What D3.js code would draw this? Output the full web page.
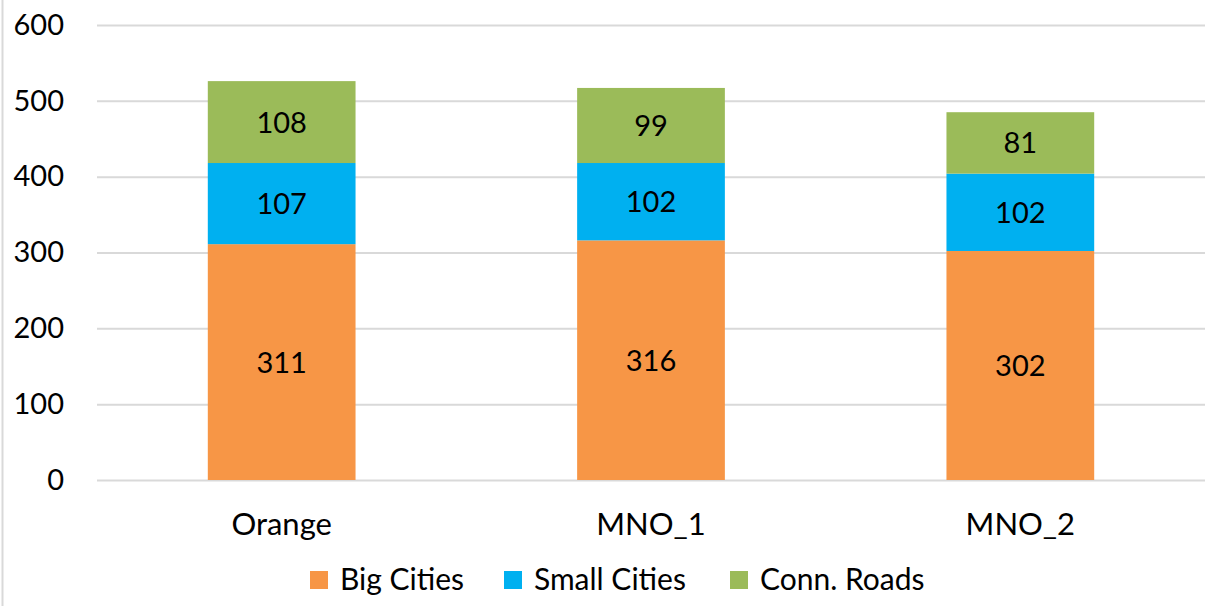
<!DOCTYPE html>
<html>
<head>
<meta charset="utf-8">
<script src="https://cdn.jsdelivr.net/npm/d3@7"></script>
<style>
  body { margin: 0; background: #fff; }
  svg { display: block; font-family: Lato, "Open Sans", sans-serif; }
</style>
</head>
<body>
<svg width="1216" height="606"></svg>
<script>
// chart data
var categories = ["Orange", "MNO_1", "MNO_2"];
var seriesNames = ["Big Cities", "Small Cities", "Conn. Roads"];
var bigCities = [311, 316, 302];
var smallCities = [107, 102, 102];
var connRoads = [108, 99, 81];
var yTicks = [0, 100, 200, 300, 400, 500, 600];

var colors = ["#F79646", "#00B0F0", "#9BBB59"];

// build table for the stack layout
var table = categories.map(function (c, i) {
  return { cat: c, "Big Cities": bigCities[i], "Small Cities": smallCities[i], "Conn. Roads": connRoads[i] };
});

var svg = d3.select("svg");

// thin frame line on the left
svg.append("line")
    .attr("x1", 2.5).attr("x2", 2.5)
    .attr("y1", 0).attr("y2", 606)
    .attr("stroke", "#d9d9d9")
    .attr("stroke-width", 2);

var x = d3.scaleBand().domain(categories).range([97, 1205])
    .paddingInner(0.6).paddingOuter(0.3);
var y = d3.scaleLinear().domain([0, 600]).range([480, 25]);

// gridlines
svg.append("g")
  .selectAll("line")
  .data(yTicks)
  .join("line")
    .attr("x1", 97).attr("x2", 1205)
    .attr("y1", function (d) { return y(d) + 0.5; })
    .attr("y2", function (d) { return y(d) + 0.5; })
    .attr("stroke", "#d9d9d9")
    .attr("stroke-width", 2);

// y axis labels
var yAxis = svg.append("g")
    .attr("transform", "translate(64,0)")
    .call(d3.axisLeft(y).tickValues(yTicks).tickSize(0).tickPadding(0));
yAxis.select(".domain").remove();
yAxis.selectAll("text")
    .style("font-size", "29px")
    .style("font-family", "Lato, 'Open Sans', sans-serif")
    .attr("fill", "#000");

// x axis labels
var xAxis = svg.append("g")
    .attr("transform", "translate(0,535)")
    .call(d3.axisBottom(x).tickSize(0).tickPadding(0));
xAxis.select(".domain").remove();
xAxis.selectAll("text")
    .attr("dy", 0)
    .attr("y", 0)
    .style("font-size", "31px")
    .style("font-family", "Lato, 'Open Sans', sans-serif")
    .attr("fill", "#000");

// stacked bars
var stack = d3.stack().keys(seriesNames)(table);

var layers = svg.append("g")
  .selectAll("g")
  .data(stack)
  .join("g")
    .attr("fill", function (d, i) { return colors[i]; });

layers.selectAll("rect")
  .data(function (d) { return d; })
  .join("rect")
    .attr("x", function (d) { return x(d.data.cat); })
    .attr("y", function (d) { return y(d[1]); })
    .attr("width", x.bandwidth())
    .attr("height", function (d) { return y(d[0]) - y(d[1]); });

// value labels inside segments
layers.selectAll("text")
  .data(function (d) { return d; })
  .join("text")
    .attr("x", function (d) { return x(d.data.cat) + x.bandwidth() / 2; })
    .attr("y", function (d) { return (y(d[0]) + y(d[1])) / 2; })
    .attr("dy", "0.36em")
    .attr("text-anchor", "middle")
    .attr("fill", "#000")
    .style("font-size", "29px")
    .text(function (d) { return d[1] - d[0]; });

// legend
var legendX = [310, 504, 730];
var legend = svg.append("g")
  .selectAll("g")
  .data(seriesNames)
  .join("g")
    .attr("transform", function (d, i) { return "translate(" + legendX[i] + ",571)"; });

legend.append("rect")
    .attr("width", 18).attr("height", 18)
    .attr("fill", function (d, i) { return colors[i]; });

legend.append("text")
    .attr("x", 30)
    .attr("y", 19)
    .attr("fill", "#000")
    .style("font-size", "30px")
    .text(function (d) { return d; });
</script>
</body>
</html>
